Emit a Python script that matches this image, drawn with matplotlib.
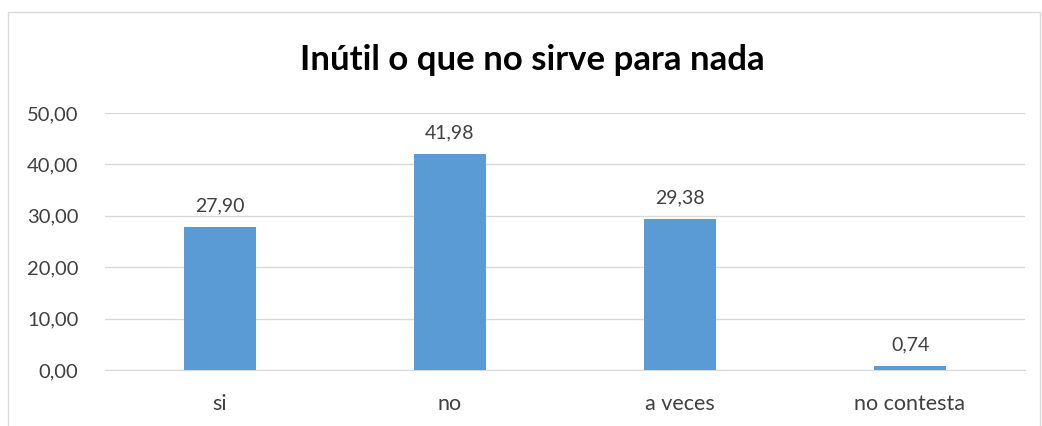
import matplotlib.pyplot as plt
from matplotlib.patches import Rectangle

categories = ['si', 'no', 'a veces', 'no contesta']
values = [27.90, 41.98, 29.38, 0.74]
yticks = [0, 10, 20, 30, 40, 50]
title = 'Inútil o que no sirve para nada'

plt.rcParams['font.family'] = ['Lato', 'DejaVu Sans']

fig = plt.figure(figsize=(10.42, 4.26), dpi=100)
ax = fig.add_axes([105 / 1042, 56 / 426, 920 / 1042, 257 / 426])

# chart frame like the spreadsheet export
fig.patches.append(Rectangle((8 / 1042, -0.05), 1032 / 1042, 1.05 - 12 / 426,
                             transform=fig.transFigure, fill=False,
                             edgecolor='#D9D9D9', linewidth=1))

x = range(len(categories))
bars = ax.bar(x, values, width=0.31, color='#5B9BD5', zorder=3)
for b, v in zip(bars, values):
    ax.annotate(f'{v:.2f}'.replace('.', ','), (b.get_x() + b.get_width() / 2, v),
                xytext=(0, 9), textcoords='offset points', ha='center', va='bottom',
                fontsize=14, color='#404040')

ax.set_xlim(-0.5, len(categories) - 0.5)
ax.set_ylim(0, 50)
ax.set_yticks(yticks)
ax.set_yticklabels([f'{t:.2f}'.replace('.', ',') for t in yticks])
ax.set_xticks(list(x))
ax.set_xticklabels(categories)
ax.grid(axis='y', color='#D9D9D9', linewidth=1, zorder=0)
for s in ['top', 'right', 'left']:
    ax.spines[s].set_visible(False)
ax.spines['bottom'].set_color('#D9D9D9')
ax.tick_params(axis='both', length=0, colors='#404040')
ax.tick_params(axis='y', labelsize=14.5, pad=19)
ax.tick_params(axis='x', labelsize=15.5, pad=17)

fig.text(532 / 1042, (426 - 60) / 426, title, ha='center', va='center',
         fontsize=25, fontweight='bold', color='black')

fig.savefig('out.png', dpi=100)
